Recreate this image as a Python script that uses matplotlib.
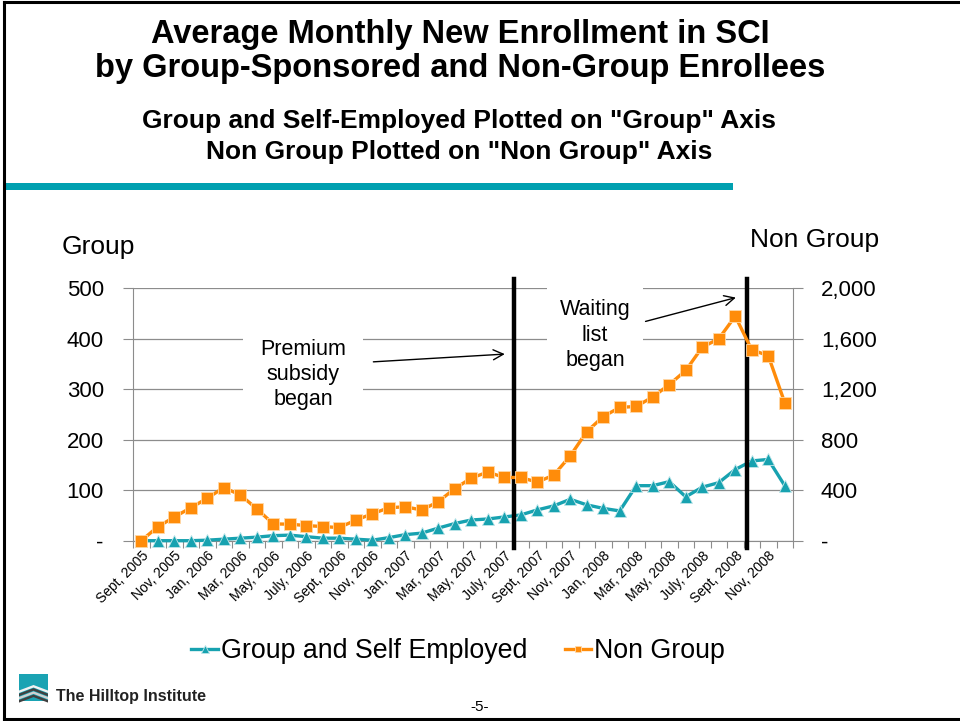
import matplotlib
matplotlib.use('Agg')

import numpy as np
import matplotlib.pyplot as plt
from matplotlib.patches import Rectangle, Polygon
from matplotlib.ticker import FuncFormatter

plt.rcParams['font.family'] = ['Liberation Sans', 'DejaVu Sans']

months = ["Sept, 2005", "Oct, 2005", "Nov, 2005", "Dec, 2005",
          "Jan, 2006", "Feb, 2006", "Mar, 2006", "Apr, 2006", "May, 2006", "June, 2006",
          "July, 2006", "Aug, 2006", "Sept, 2006", "Oct, 2006", "Nov, 2006", "Dec, 2006",
          "Jan, 2007", "Feb, 2007", "Mar, 2007", "Apr, 2007", "May, 2007", "June, 2007",
          "July, 2007", "Aug, 2007", "Sept, 2007", "Oct, 2007", "Nov, 2007", "Dec, 2007",
          "Jan, 2008", "Feb, 2008", "Mar, 2008", "Apr, 2008", "May, 2008", "June, 2008",
          "July, 2008", "Aug, 2008", "Sept, 2008", "Oct, 2008", "Nov, 2008", "Dec, 2008"]

group_self = [0, 0, 0, 0, 1, 3, 5, 7, 10, 11, 8, 5,
              5, 3, 1, 6, 12, 15, 25, 34, 41, 43, 47, 51,
              61, 69, 82, 71, 64, 59, 109, 109, 117, 87, 106, 115,
              141, 158, 161, 109]

non_group = [0, 110, 187, 261, 336, 421, 363, 253, 133, 131, 120, 112,
             104, 163, 213, 261, 269, 243, 309, 413, 496, 544, 501, 501,
             464, 520, 672, 864, 984, 1056, 1064, 1139, 1237, 1349, 1533, 1600,
             1779, 1512, 1467, 1093]

# policy events, as positions on the month axis
premium_x = 22.6
waiting_x = 36.7

teal = '#17a2b0'
orange = '#ff8c0a'
axis_gray = '#8c8c8c'

fig = plt.figure(figsize=(9.6, 7.21), dpi=100)
ax = fig.add_axes([133 / 960, 1 - 540.7 / 721, 660 / 960, 252.4 / 721])
ax2 = ax.twinx()

x = np.arange(len(months))

ax.plot(x, group_self, color=teal, linewidth=2.4, marker='^', markersize=8.5,
        markeredgecolor='#bfe6ea', markeredgewidth=0.6, label='Group and Self Employed',
        zorder=3, clip_on=False)
ax2.plot(x, non_group, color=orange, linewidth=2.4, marker='s', markersize=8,
         markeredgecolor='#ffd9a8', markeredgewidth=0.6, label='Non Group',
         zorder=3, clip_on=False)

ax.set_xlim(-0.5, len(months) - 0.5)
ax.set_ylim(0, 500)
ax2.set_ylim(0, 2000)
ax.set_yticks([0, 100, 200, 300, 400, 500])
ax2.set_yticks([0, 400, 800, 1200, 1600, 2000])

dash_fmt = FuncFormatter(lambda v, p: '-' if v == 0 else f'{v:,.0f}')
ax.yaxis.set_major_formatter(dash_fmt)
ax2.yaxis.set_major_formatter(dash_fmt)

ax.grid(axis='y', color=axis_gray, linewidth=0.9)
ax.set_axisbelow(True)

# tick marks between months, labels on every other month
ax.set_xticks(np.arange(-0.5, len(months), 1.0))
ax.set_xticklabels([])
ax.set_xticks(x[::2], minor=True)
ax.set_xticklabels(months[::2], minor=True, rotation=45, ha='right', va='top',
                   rotation_mode='anchor', fontsize=10)
ax.tick_params(axis='x', which='major', length=5, color=axis_gray, direction='out')
ax.tick_params(axis='x', which='minor', length=0, pad=6)
ax.tick_params(axis='y', length=7, color=axis_gray, labelsize=16, pad=14)
ax2.tick_params(axis='y', length=7, color=axis_gray, labelsize=16, pad=13)
for lab in ax2.get_yticklabels():
    lab.set_horizontalalignment('left')

for a in (ax, ax2):
    a.spines['top'].set_visible(False)
    for s in ('left', 'right', 'bottom'):
        a.spines[s].set_color(axis_gray)
ax.spines['right'].set_visible(False)
ax2.spines['left'].set_visible(False)
ax2.spines['bottom'].set_visible(False)

# event lines and their notes
for ex in (premium_x, waiting_x):
    ax.plot([ex, ex], [-15, 519], color='black', linewidth=3.2, zorder=4, clip_on=False)

ax2.add_patch(Rectangle((6.15, 250 * 4), 7.3, 195 * 4, facecolor='white',
                        edgecolor='none', zorder=2))
ax2.add_patch(Rectangle((24.6, 345 * 4), 5.8, 165 * 4, facecolor='white',
                        edgecolor='none', zorder=2, clip_on=False))
ax2.text(9.8, 329 * 4, "Premium\nsubsidy\nbegan", ha='center', va='center',
         fontsize=15.5, linespacing=1.27, zorder=5)
ax2.text(27.5, 407 * 4, "Waiting\nlist\nbegan", ha='center', va='center',
         fontsize=15.5, linespacing=1.27, zorder=5)
ax2.annotate('', xy=(22.2, 370 * 4), xytext=(13.9, 354 * 4),
             arrowprops=dict(arrowstyle='->', color='black', lw=1.0,
                             mutation_scale=18), zorder=5)
ax2.annotate('', xy=(36.2, 483 * 4), xytext=(30.4, 433 * 4),
             arrowprops=dict(arrowstyle='->', color='black', lw=1.0,
                             mutation_scale=18), zorder=5, annotation_clip=False)

fig.text(62 / 960, 1 - 247 / 721, "Group", fontsize=19, va='center', ha='left')
fig.text(750 / 960, 1 - 240 / 721, "Non Group", fontsize=19, va='center', ha='left')

h1, l1 = ax.get_legend_handles_labels()
h2, l2 = ax2.get_legend_handles_labels()
fig.legend(h1 + h2, l1 + l2, loc='center', bbox_to_anchor=(458 / 960, 1 - 651 / 721),
           ncol=2, frameon=False, fontsize=19.3, handlelength=1.0, handletextpad=0.1,
           columnspacing=1.4, markerscale=0.6)

# slide header
fig.text(460 / 960, 1 - 35 / 721, "Average Monthly New Enrollment in SCI",
         fontsize=23.5, fontweight='bold', ha='center', va='center')
fig.text(460 / 960, 1 - 68 / 721, "by Group-Sponsored and Non-Group Enrollees",
         fontsize=23.5, fontweight='bold', ha='center', va='center')
fig.text(459 / 960, 1 - 121 / 721, 'Group and Self-Employed Plotted on "Group" Axis',
         fontsize=19, fontweight='bold', ha='center', va='center')
fig.text(459 / 960, 1 - 152 / 721, 'Non Group Plotted on "Non Group" Axis',
         fontsize=19, fontweight='bold', ha='center', va='center')
fig.add_artist(Rectangle((5 / 960, 1 - 190 / 721), 728 / 960, 7.5 / 721,
                         transform=fig.transFigure, facecolor='#00a0b0', edgecolor='none'))

# slide frame
frame = dict(color='black', linewidth=2.2, transform=fig.transFigure)
fig.add_artist(plt.Line2D([4 / 960, 4 / 960], [2 / 721, 1 - 1.5 / 721], **frame))
fig.add_artist(plt.Line2D([4 / 960, 1], [1 - 1.5 / 721, 1 - 1.5 / 721], **frame))
fig.add_artist(plt.Line2D([4 / 960, 1], [2.5 / 721, 2.5 / 721], **frame))

# footer logo and page number
fig.add_artist(Rectangle((19 / 960, 1 - 701 / 721), 29 / 960, 27 / 721,
                         transform=fig.transFigure, facecolor='#1aa3b3', edgecolor='none'))
for k, c in enumerate(['#f2f2f2', '#404040', '#d0d0d0', '#404040']):
    y0 = 1 - (688 + k * 3.2) / 721
    fig.add_artist(Polygon([(19 / 960, y0 - 2.5 / 721), (33.5 / 960, y0 + 3 / 721),
                            (48 / 960, y0 - 2.5 / 721), (48 / 960, y0 - 5 / 721),
                            (33.5 / 960, y0 + 0.5 / 721), (19 / 960, y0 - 5 / 721)],
                           closed=True, transform=fig.transFigure, facecolor=c,
                           edgecolor='none'))
fig.text(56 / 960, 1 - 696 / 721, "The Hilltop Institute", fontsize=11.5,
         fontweight='bold', color='#222222', ha='left', va='center')
fig.text(480 / 960, 1 - 707 / 721, "-5-", fontsize=11, ha='center', va='center')

fig.savefig('out.png', dpi=100)
